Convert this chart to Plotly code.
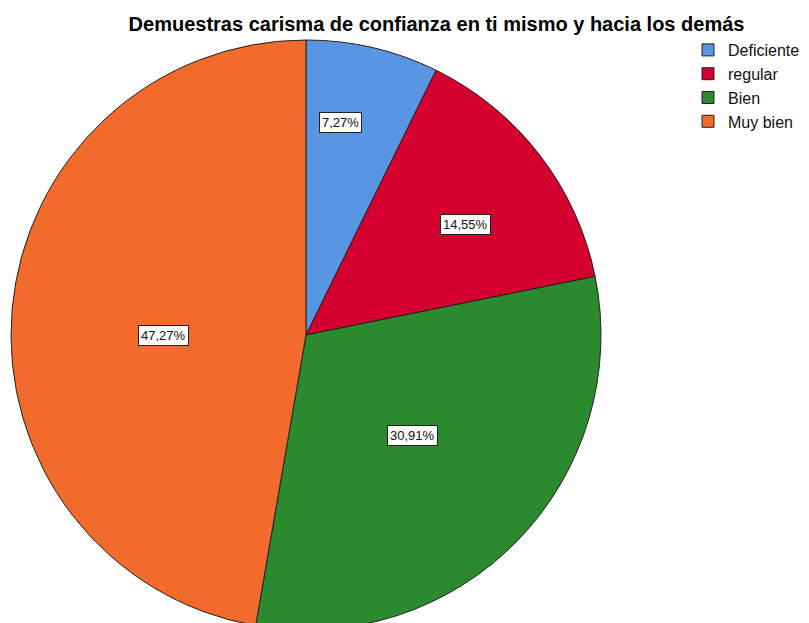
import math
import plotly.graph_objects as go

# Survey responses (percent of respondents)
categories = ["Deficiente", "regular", "Bien", "Muy bien"]
percentages = [7.27, 14.55, 30.91, 47.27]
slice_colors = ["#5896e3", "#d5002e", "#2b8a2e", "#f26a2c"]

title_text = "Demuestras carisma de confianza en ti mismo y hacia los demás"

# Label placement inside each slice: radial fraction and angle nudge (deg)
label_radius = [0.73, 0.66, 0.495, 0.483]
label_nudge = [-3.8, 2.9, -0.9, -5.3]

W, H = 809, 640
cx, cy, R = 306, 335, 295  # pie centre and radius in pixels

fig = go.Figure(
    go.Pie(
        labels=categories,
        values=percentages,
        sort=False,
        direction="clockwise",
        rotation=0,
        marker=dict(colors=slice_colors, line=dict(color="#222222", width=1)),
        textinfo="none",
        hoverinfo="label+percent",
        domain=dict(x=[(cx - R) / W, (cx + R) / W], y=[1 - (cy + R) / H, 1 - (cy - R) / H]),
    )
)

# Boxed percentage labels
annotations = []
total = sum(percentages)
cum = 0.0
for val, rf, nudge in zip(percentages, label_radius, label_nudge):
    mid = (cum + val / 2) / total * 360 + nudge
    cum += val
    px = cx + rf * R * math.sin(math.radians(mid))
    py = cy - rf * R * math.cos(math.radians(mid))
    annotations.append(
        dict(
            x=px / W,
            y=1 - py / H,
            xref="paper",
            yref="paper",
            text=f"{val:.2f}".replace(".", ",") + "%",
            showarrow=False,
            font=dict(family="Liberation Sans, Arial, sans-serif", size=13, color="#111111"),
            bgcolor="white",
            bordercolor="#222222",
            borderwidth=1,
            borderpad=2,
            xanchor="center",
            yanchor="middle",
        )
    )

fig.update_layout(
    width=W,
    height=H,
    margin=dict(l=0, r=0, t=0, b=0, autoexpand=False),
    paper_bgcolor="white",
    plot_bgcolor="white",
    title=dict(
        text=f"<b>{title_text}</b>",
        x=436.5 / W,
        xanchor="center",
        y=1 - 24 / H,
        yanchor="middle",
        font=dict(family="Liberation Sans, Arial, sans-serif", size=20, color="#000000"),
    ),
    legend=dict(
        x=688 / W,
        y=1 - 33 / H,
        xanchor="left",
        yanchor="top",
        traceorder="normal",
        font=dict(family="Liberation Sans, Arial, sans-serif", size=16, color="#111111"),
        itemwidth=30,
        tracegroupgap=0,
        bgcolor="rgba(0,0,0,0)",
    ),
    annotations=annotations,
)

fig.write_html(
    "out.html",
    post_script="document.documentElement.style.overflow='hidden';document.body.style.overflow='hidden';document.body.style.margin='0';",
)
